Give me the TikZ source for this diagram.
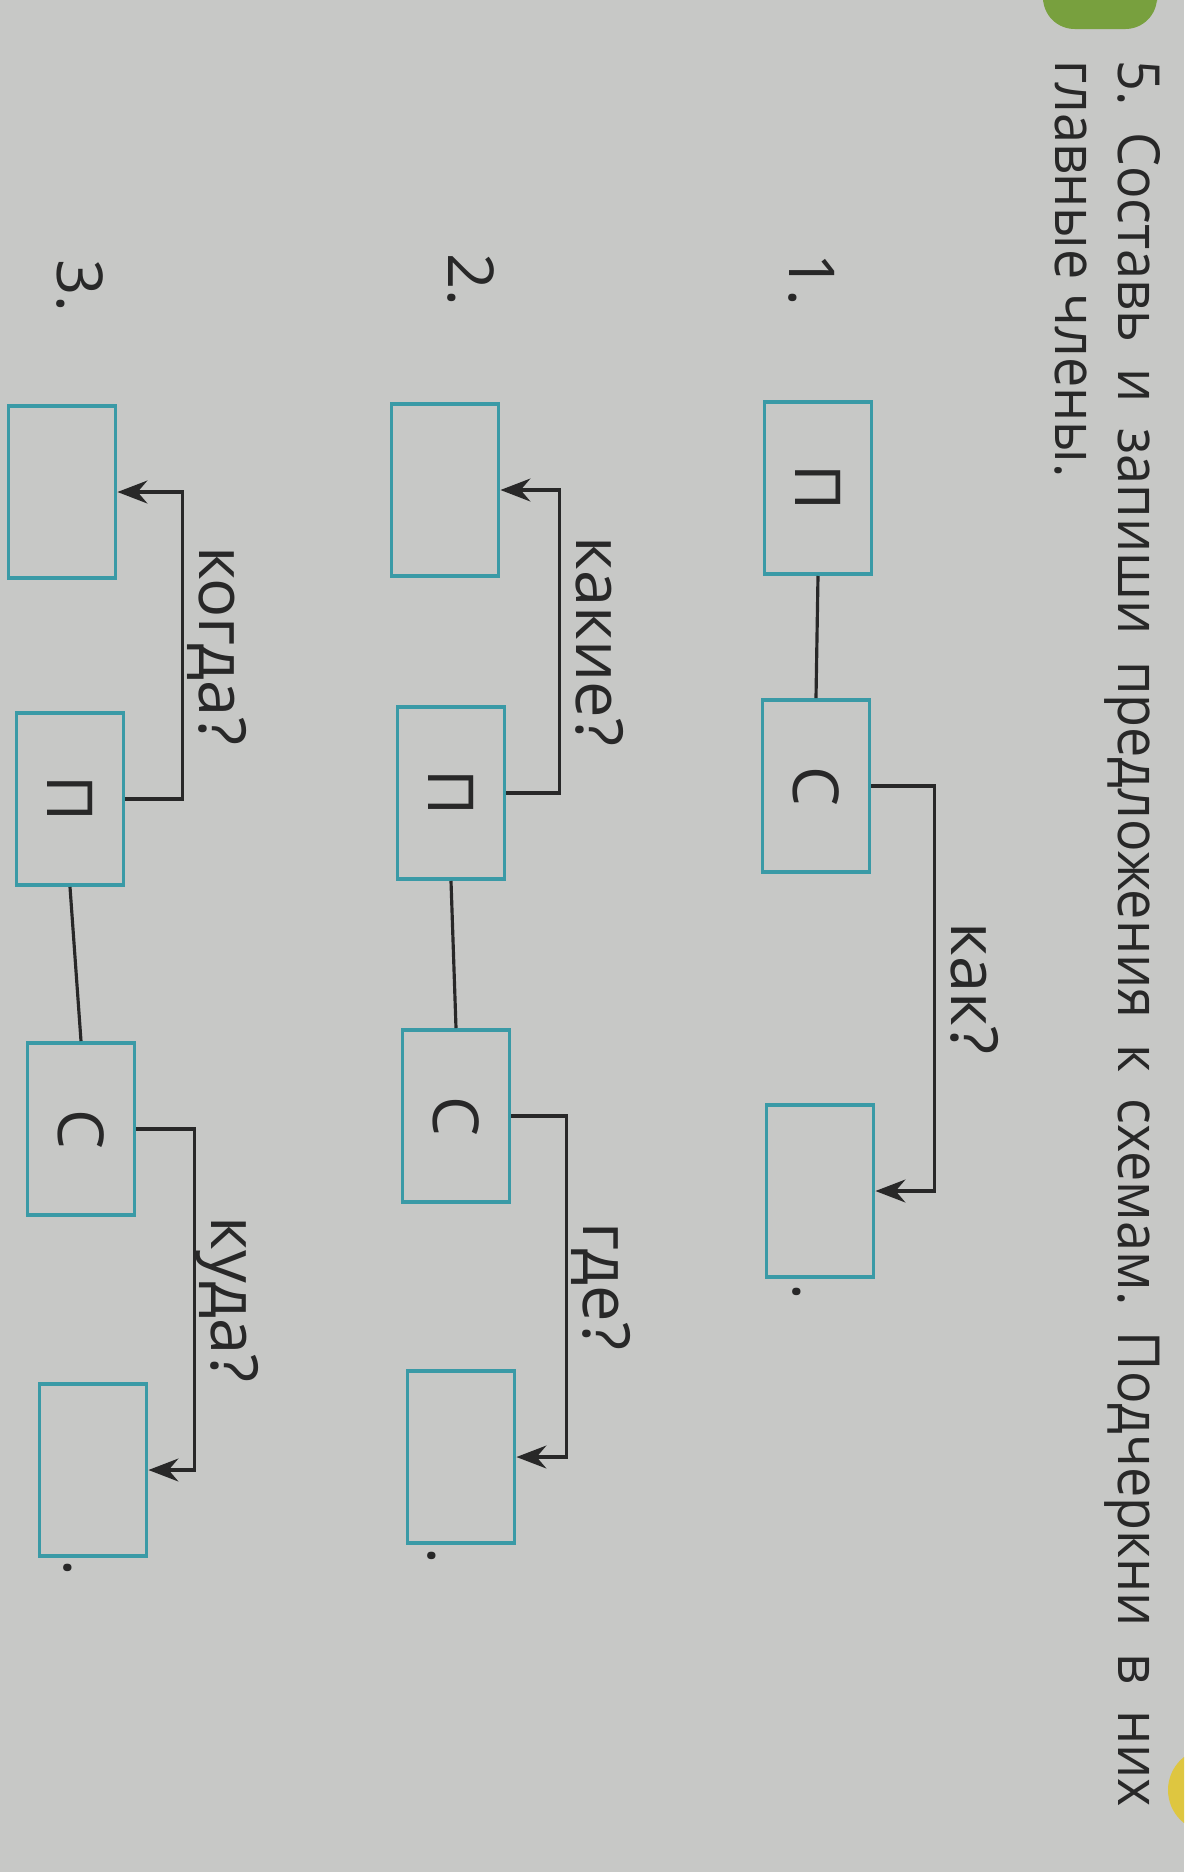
\documentclass[tikz,border=0pt]{standalone}
\usepackage{fontspec}
\setmainfont{Open Sans}
\newfontfamily\taskfont[FakeStretch=0.93]{Open Sans}
\usepackage{graphicx}
\usepackage{xcolor}
\usetikzlibrary{arrows.meta, positioning}
\definecolor{paper}{RGB}{199,200,198}
\definecolor{boxteal}{RGB}{58,154,166}
\definecolor{ink}{RGB}{40,40,40}
\definecolor{tabgreen}{RGB}{120,160,62}
\definecolor{markyellow}{RGB}{222,198,64}
\frenchspacing

\begin{document}
\begin{tikzpicture}[
    x=0.01cm, y=-0.01cm,
    box/.style={draw=boxteal, line width=1.1pt, minimum width=1.07cm, minimum height=1.72cm, inner sep=0pt, text=ink, font=\fontsize{18}{20}\selectfont},
    link/.style={line width=0.9pt, color=ink},
    arrow/.style={-{Stealth[length=8.5pt, width=6.5pt]}, line width=0.9pt, color=ink},
    qlabel/.style={rotate=-90, anchor=south, inner sep=4.5pt, text depth=0pt, text=ink, font=\fontsize{18.5}{20}\selectfont},
    heading/.style={rotate=-90, anchor=base west, inner sep=0pt, text=ink, font=\taskfont\fontsize{16.5}{20}\selectfont},
    num/.style={rotate=-90, inner sep=0pt, text=ink, font=\fontsize{18}{20}\selectfont}
]
    \useasboundingbox (0,0) rectangle (1184,1872);
    \fill[paper] (0,0) rectangle (1184,1872);
    \clip (0,0) rectangle (1184,1872);
    \fill[tabgreen, rounded corners=9pt] (1043,-30) rectangle (1157,29);
    \fill[markyellow] (1210,1790) circle (42);

    \node[heading] (task) at (1118,60) {\makebox[17.45cm][s]{5. Составь и запиши предложения к схемам. Подчеркни в них}};
    \node[heading] (task2) at (1055,60) {главные члены.};

    \node[num] (n1) at (812,280) {1.};
    \node[box] (p1) at (818,488) {\rotatebox{-90}{П}};
    \node[box] (s1) at (816,786) {\rotatebox{-90}{С}};
    \node[box] (e1) at (820,1191) {};
    \node[num] (d1) at (797,1292) {.};
    \draw[link] (p1.south) -- (s1.north);
    \draw[arrow] (s1.east) -- ++(63,0) |- node[qlabel, pos=0.25] (k1) {как?} (e1.east);

    \node[num] (n2) at (471,280) {2.};
    \node[box] (q2) at (445,490) {};
    \node[box] (p2) at (451,793) {\rotatebox{-90}{П}};
    \node[box] (s2) at (456,1116) {\rotatebox{-90}{С}};
    \node[box] (e2) at (461,1457) {};
    \node[num] (d2) at (432,1556) {.};
    \draw[link] (p2.south) -- (s2.north);
    \draw[arrow] (p2.east) -- ++(53,0) |- node[qlabel, pos=0.25] (k2) {какие?} (q2.east);
    \draw[arrow] (s2.east) -- ++(55,0) |- node[qlabel, pos=0.25] (g2) {где?} (e2.east);

    \node[num] (n3) at (80,286) {3.};
    \node[box] (q3) at (62,492) {};
    \node[box] (p3) at (70,799) {\rotatebox{-90}{П}};
    \node[box] (s3) at (81,1129) {\rotatebox{-90}{С}};
    \node[box] (e3) at (93,1470) {};
    \node[num] (d3) at (68,1568) {.};
    \draw[link] (p3.south) -- (s3.north);
    \draw[arrow] (p3.east) -- ++(57,0) |- node[qlabel, pos=0.25] (k3) {когда?} (q3.east);
    \draw[arrow] (s3.east) -- ++(58,0) |- node[qlabel, pos=0.25] (u3) {куда?} (e3.east);
\end{tikzpicture}
\end{document}
